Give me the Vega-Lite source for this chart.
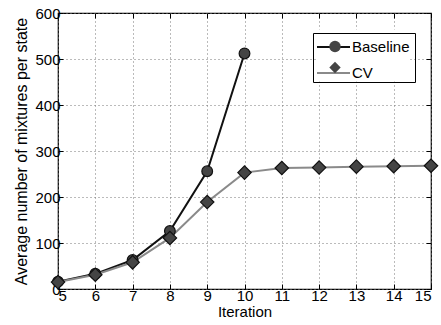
{
  "$schema": "https://vega.github.io/schema/vega-lite/v6.json",
  "autosize": "none",
  "width": 373,
  "height": 276,
  "padding": {"left": 58, "top": 13, "right": 10, "bottom": 36},
  "background": "white",
  "config": {
    "font": "Liberation Sans",
    "view": {"stroke": "black", "strokeWidth": 1.2},
    "axis": {
      "labelFontSize": 15,
      "labelColor": "black",
      "titleFontSize": 15,
      "titleFontWeight": "normal",
      "titleColor": "black",
      "domain": false,
      "tickColor": "black",
      "tickSize": -5,
      "tickWidth": 1,
      "gridColor": "#777",
      "gridDash": [1, 3],
      "gridWidth": 1,
      "gridOpacity": 1
    }
  },
  "data": {
    "values": [
      {"series": "Baseline", "iteration": 5, "value": 16},
      {"series": "Baseline", "iteration": 6, "value": 33},
      {"series": "Baseline", "iteration": 7, "value": 63},
      {"series": "Baseline", "iteration": 8, "value": 126},
      {"series": "Baseline", "iteration": 9, "value": 256},
      {"series": "Baseline", "iteration": 10, "value": 512},
      {"series": "CV", "iteration": 5, "value": 15},
      {"series": "CV", "iteration": 6, "value": 31},
      {"series": "CV", "iteration": 7, "value": 58},
      {"series": "CV", "iteration": 8, "value": 111},
      {"series": "CV", "iteration": 9, "value": 189},
      {"series": "CV", "iteration": 10, "value": 253},
      {"series": "CV", "iteration": 11, "value": 263},
      {"series": "CV", "iteration": 12, "value": 264},
      {"series": "CV", "iteration": 13, "value": 266},
      {"series": "CV", "iteration": 14, "value": 267},
      {"series": "CV", "iteration": 15, "value": 268}
    ]
  },
  "transform": [{"calculate": "datum.series", "as": "marker"}],
  "resolve": {"axis": {"x": "independent", "y": "independent"}},
  "layer": [
    {
      "mark": {"type": "line", "strokeWidth": 2},
      "encoding": {
        "x": {
          "field": "iteration", "type": "quantitative",
          "scale": {"domain": [5, 15], "nice": false},
          "axis": {"values": [5,6,7,8,9,10,11,12,13,14,15], "title": "Iteration", "titlePadding": 1, "labelPadding": 4}
        },
        "y": {
          "field": "value", "type": "quantitative",
          "scale": {"domain": [0, 600], "nice": false},
          "axis": {"values": [0,100,200,300,400,500,600], "title": "Average number of mixtures per state", "titleFontSize": 16, "titlePadding": 5, "labelPadding": 3}
        },
        "color": {
          "field": "series", "type": "nominal",
          "scale": {"domain": ["Baseline", "CV"], "range": ["#111", "#8a8a8a"]},
          "legend": {
            "title": null, "orient": "none", "legendX": 258, "legendY": 16.5,
            "symbolType": "stroke", "symbolSize": 1089, "symbolStrokeWidth": 2,
            "labelFontSize": 15, "labelColor": "black", "labelOffset": 1, "labelLimit": 80,
            "fillColor": "white", "padding": 0,
            "rowPadding": -5
          }
        }
      }
    },
    {
      "mark": {"type": "point", "filled": true, "opacity": 1, "strokeWidth": 1.2, "stroke": "#111"},
      "encoding": {
        "x": {
          "field": "iteration", "type": "quantitative",
          "axis": {"orient": "top", "values": [5,6,7,8,9,10,11,12,13,14,15], "title": null, "labels": false, "grid": false}
        },
        "y": {
          "field": "value", "type": "quantitative",
          "axis": {"orient": "right", "values": [0,100,200,300,400,500,600], "title": null, "labels": false, "grid": false}
        },
        "shape": {
          "field": "marker", "type": "nominal",
          "scale": {"range": ["circle", "diamond"]},
          "legend": {
            "title": null, "orient": "none", "legendX": 255, "legendY": 20,
            "symbolSize": 130, "symbolFillColor": "#444", "symbolStrokeColor": "#111", "symbolStrokeWidth": 1.2,
            "symbolOffset": 8.5, "labelOffset": 66,
            "labelExpr": "'\u00a0\u00a0\u00a0\u00a0\u00a0\u00a0\u00a0\u00a0\u00a0\u00a0\u00a0\u00a0\u00a0\u00a0'",
            "labelFontSize": 15, "labelColor": "transparent", "padding": 6, "rowPadding": 4,
            "strokeColor": "black"
          }
        },
        "size": {"condition": {"test": "datum.series === 'CV'", "value": 180}, "value": 115},
        "fill": {"value": "#444"}
      }
    }
  ]
}
